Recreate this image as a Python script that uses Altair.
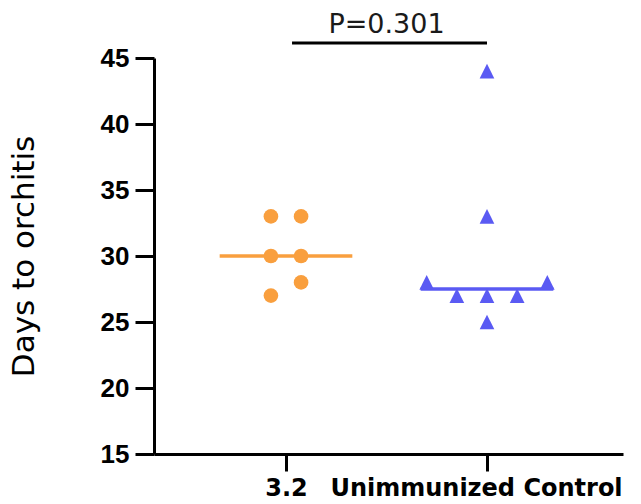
import altair as alt
import pandas as pd

# ---- data ----
groups = ["3.2", "Unimmunized Control"]
days_32 = [33, 33, 30, 30, 28, 27]
days_control = [44, 33, 28, 28, 27, 27, 27, 25]
p_label = "P=0.301"
y_ticks = [15, 20, 25, 30, 35, 40, 45]

ORANGE = "#F99F3E"
BLUE = "#5A5AF3"

SLOT_W = 0.15        # horizontal spread of tied points (x units)
MEDIAN_HALF = 0.33   # half width of the median bar (x units)


def swarm_slots(values, gap=1.5):
    """Assign horizontal slots to points with near-equal values."""
    order = sorted(range(len(values)), key=lambda i: -values[i])
    clusters, cur = [], [order[0]]
    for a, b in zip(order, order[1:]):
        if values[a] - values[b] < gap:
            cur.append(b)
        else:
            clusters.append(cur)
            cur = [b]
    clusters.append(cur)
    slots = [0.0] * len(values)
    for cl in clusters:
        n = len(cl)
        pos = [i - (n - 1) / 2 for i in range(n)]
        pos.sort(key=lambda p: (-abs(p), -p))
        for idx, p in zip(cl, pos):
            slots[idx] = p
    return slots


rows = []
for gi, (g, vals) in enumerate(zip(groups, [days_32, days_control]), start=1):
    for v, s in zip(vals, swarm_slots(vals)):
        rows.append({"group": g, "gx": gi, "x": gi + s * SLOT_W, "days": v})
pts = pd.DataFrame(rows)

med = pts.groupby(["group", "gx"], as_index=False)["days"].median()
med["x1"] = med["gx"] - MEDIAN_HALF
med["x2"] = med["gx"] + MEDIAN_HALF

x_scale = alt.Scale(domain=[0.3433, 2.6766], nice=False, zero=False)
y_scale = alt.Scale(domain=[15, 45], nice=False, zero=False)
color_scale = alt.Scale(domain=groups, range=[ORANGE, BLUE])
shape_scale = alt.Scale(domain=groups, range=["circle", "M-1,1L1,1L0,-1Z"])

label_expr = "datum.value == 1 ? '" + groups[0] + "' : datum.value == 2 ? '" + groups[1] + "' : ''"

x_axis = alt.Axis(
    values=[1, 2], labelExpr=label_expr, title=None, grid=False,
    domainColor="black", domainWidth=3, tickColor="black", tickWidth=3, tickSize=17,
    labelFont="DejaVu Sans", labelFontWeight="bold", labelFontSize=24, labelColor="black",
    labelPadding=5, labelAngle=0, labelLimit=0, labelOverlap=False,
    labelOffset={"condition": {"test": "datum.value == 2", "value": -11}, "value": 0},
)
y_axis = alt.Axis(
    values=y_ticks, title="Days to orchitis", grid=False,
    domainColor="black", domainWidth=3, tickColor="black", tickWidth=3, tickSize=19,
    labelFont="Liberation Sans", labelFontWeight="bold", labelFontSize=26, labelColor="black",
    labelPadding=6,
    titleFont="DejaVu Sans", titleFontWeight="normal", titleFontSize=31, titleColor="black",
    titlePadding=60,
)

points = alt.Chart(pts).mark_point(filled=True, opacity=1, size=215).encode(
    x=alt.X("x:Q", scale=x_scale, axis=x_axis),
    y=alt.Y("days:Q", scale=y_scale, axis=y_axis),
    color=alt.Color("group:N", scale=color_scale, legend=None),
    shape=alt.Shape("group:N", scale=shape_scale, legend=None),
)

medians = alt.Chart(med).mark_rule(strokeWidth=3.5).encode(
    x=alt.X("x1:Q", scale=x_scale),
    x2="x2:Q",
    y=alt.Y("days:Q", scale=y_scale),
    color=alt.Color("group:N", scale=color_scale, legend=None),
)

bracket_df = pd.DataFrame({"x1": [1.03], "x2": [2.0], "y": [46.14]})
bracket = alt.Chart(bracket_df).mark_rule(strokeWidth=3, color="black", clip=False).encode(
    x=alt.X("x1:Q", scale=x_scale), x2="x2:Q", y=alt.Y("y:Q", scale=y_scale)
)

ptext_df = pd.DataFrame({"x": [1.5], "y": [46.9], "label": [p_label]})
ptext = alt.Chart(ptext_df).mark_text(
    font="DejaVu Sans", fontSize=27, color="#1a1a1a", baseline="alphabetic", align="center", clip=False
).encode(x=alt.X("x:Q", scale=x_scale), y=alt.Y("y:Q", scale=y_scale), text="label:N")

chart = alt.layer(medians, points, bracket, ptext).properties(
    width=469, height=396,
    autosize=alt.AutoSizeParams(type="none"),
    padding={"left": 154, "top": 58, "right": 18, "bottom": 50},
).configure(background="white", view=alt.ViewConfig(stroke=None))

chart.save("out.html", embed_options={"renderer": "svg", "actions": False})
